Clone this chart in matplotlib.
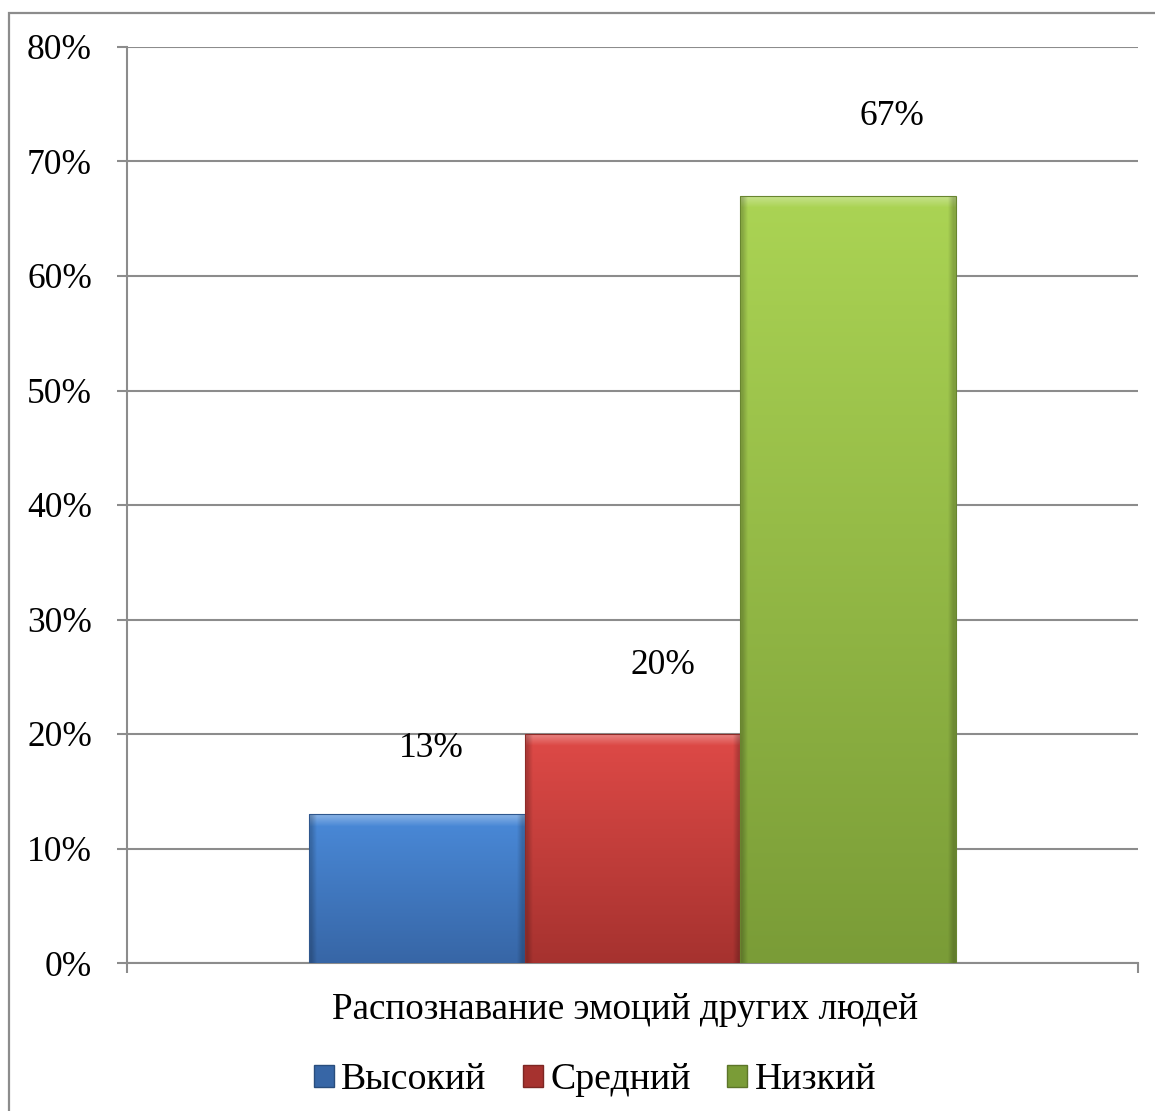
import matplotlib
matplotlib.use("Agg")
import matplotlib.pyplot as plt
import numpy as np
from matplotlib.colors import to_rgb
from matplotlib.patches import Patch, Rectangle

# Chart data
category = "Распознавание эмоций других людей"
series_names = ["Высокий", "Средний", "Низкий"]
series_values = [13, 20, 67]
y_ticks = [0, 10, 20, 30, 40, 50, 60, 70, 80]

# Appearance
top_colors = ["#4a8ad9", "#df4a47", "#abd454"]
bottom_colors = ["#3766a6", "#a6322f", "#7a9c37"]
label_shift_px = [(15, 66), (30, 68), (44, 79)]
grid_color = "#8c8c8c"
FONT = "Liberation Serif"
FS_TICK = 25.5
FS_TITLE = 26.7
FS_LEG = 27.3

fig = plt.figure(figsize=(11.55, 11.11), dpi=100)
fig.patch.set_facecolor("white")

# outer chart frame
fig.add_artist(Rectangle((9 / 1155, -0.01), 1.02, 1 - 13 / 1111 + 0.01,
                         transform=fig.transFigure, fill=False,
                         edgecolor="#8c8c8c", linewidth=1.6))

ax = fig.add_axes([127 / 1155, 1 - 963 / 1111, 1011 / 1155, 916 / 1111])
ax.set_xlim(-0.5, 0.5)
ax.set_ylim(0, 80)

bar_w = 0.2134
xs = [(i - 1) * bar_w for i in range(len(series_values))]

bars = ax.bar(xs, series_values, width=bar_w, color="none",
              edgecolor="none", zorder=3)

fig.canvas.draw()
px_per_unit = ax.transData.transform((0, 1))[1] - ax.transData.transform((0, 0))[1]

for b, c_top, c_bot in zip(bars, top_colors, bottom_colors):
    x0, y0 = b.get_x(), b.get_y()
    w, h = b.get_width(), b.get_height()
    n = max(int(round(h * px_per_unit)), 2)
    t = np.linspace(0, 1, n)[:, None]
    ct, cb = np.array(to_rgb(c_top)), np.array(to_rgb(c_bot))
    col = ct[None, :] * (1 - t) + cb[None, :] * t
    # bevel highlight along the top edge
    band = np.clip(1 - np.arange(n) / 12.0, 0, 1)[:, None]
    col = col + (1 - col) * band * 0.35
    img = np.repeat(col[:, None, :], 40, axis=1)
    # darker side edges
    side = np.ones(40)
    side[0] = side[-1] = 0.8
    img = img * side[None, :, None]
    im = ax.imshow(img, extent=(x0, x0 + w, y0, y0 + h), aspect="auto",
                   origin="upper", zorder=3, interpolation="bilinear")
    im.set_clip_path(b)
    ax.add_patch(Rectangle((x0, y0), w, h, fill=False,
                           edgecolor=tuple(np.array(to_rgb(c_bot)) * 0.85),
                           linewidth=0.8, zorder=4))

for b, v, (dx, dy) in zip(bars, series_values, label_shift_px):
    ax.annotate(f"{v}%", (b.get_x() + b.get_width() / 2, v),
                xytext=(dx * 0.72, dy * 0.72), textcoords="offset points",
                ha="center", va="center", fontsize=FS_TICK, family=FONT,
                zorder=5)

ax.set_yticks(y_ticks)
ax.set_yticklabels([f"{t}%" for t in y_ticks], fontsize=FS_TICK, family=FONT)
ax.yaxis.grid(True, color=grid_color, linewidth=1.5, zorder=0)
ax.set_axisbelow(True)
ax.tick_params(axis="y", length=7.2, width=1.5, color=grid_color, pad=18)
ax.set_xticks([-0.5, 0.5])
ax.set_xticklabels(["", ""])
ax.tick_params(axis="x", length=7.2, width=1.5, color=grid_color)
for s in ["top", "right"]:
    ax.spines[s].set_visible(False)
for s in ["left", "bottom"]:
    ax.spines[s].set_color(grid_color)
    ax.spines[s].set_linewidth(1.5)

fig.text(625 / 1155, 1 - 1010 / 1111, category, ha="center", va="center",
         fontsize=FS_TITLE, family=FONT)

handles = [Patch(facecolor=c, edgecolor=tuple(np.array(to_rgb(c)) * 0.75))
           for c in bottom_colors]
fig.legend(handles, series_names, loc="center", ncol=3,
           bbox_to_anchor=(595 / 1155, 1 - 1080 / 1111), frameon=False,
           prop={"family": FONT, "size": FS_LEG}, handlelength=0.53,
           handleheight=0.53, handletextpad=0.19, columnspacing=0.96,
           borderpad=0, borderaxespad=0)

fig.savefig("out.png", dpi=100, facecolor="white")
